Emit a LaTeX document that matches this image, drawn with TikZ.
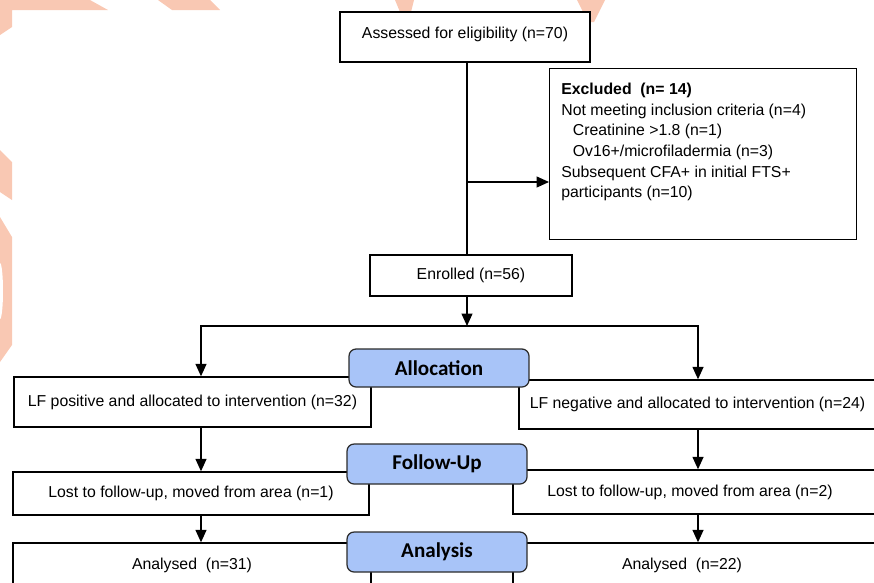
\documentclass[tikz,border=0pt]{standalone}
\usepackage{fontspec}
\setmainfont{Liberation Sans}
\newfontfamily\stagefont{Carlito}
\usetikzlibrary{arrows.meta,positioning,calc}
\definecolor{stageblue}{HTML}{A8C4F8}
\definecolor{stageedge}{HTML}{2B2B2B}
\definecolor{markorange}{HTML}{F9C8B3}

\begin{document}
\begin{tikzpicture}[
    x=0.02cm, y=-0.02cm,
    >={Triangle[length=2.5mm,width=2.2mm]},
    box/.style={draw=black,line width=0.8pt,fill=white,inner sep=0pt,
                font=\fontsize{9}{11.7}\selectfont},
    stage/.style={draw=stageedge,fill=stageblue,rounded corners=4pt,line width=0.7pt,
                  minimum width=3.6cm,minimum height=0.76cm,
                  font=\stagefont\fontsize{12}{14}\selectfont\bfseries},
    flow/.style={->,line width=0.8pt}
  ]
  \useasboundingbox (0,0) rectangle (874,582);
  \clip (0,0) rectangle (874,582);

  % faint logo behind the chart
  \fill[markorange] (0,0) -- (90,0) -- (108,10) -- (12,10) -- (12,27) -- (0,35) -- cycle;
  \fill[markorange] (158,0) -- (210,0) -- (220,10) -- (172,10) -- cycle;
  \fill[markorange] (395,0) -- (414,0) -- (411,12) -- (400,12) -- cycle;
  \fill[markorange] (577,0) -- (605,0) -- (594,22) -- (588,22) -- cycle;
  \fill[markorange] (0,150) -- (12,162) -- (12,200) -- (0,192) -- cycle;
  \fill[markorange] (0,217) -- (12,237) -- (12,345) -- (0,362) -- cycle;
  \fill[white] (0,291) ellipse [x radius=0.06cm, y radius=0.56cm];

  % enrolment
  \node[box,minimum width=5cm,minimum height=1cm] (assess) at (465,37) {Assessed for eligibility (n=70)\rule[-0.5em]{0pt}{0pt}};
  \coordinate (split) at (467,182);
  \node[box,anchor=north west,minimum width=6.14cm,minimum height=3.42cm] (excl) at (549,68) {};
  \node[anchor=north west,align=left,inner sep=0pt,font=\fontsize{9}{11.7}\selectfont] (excltext) at (561,83)
    {\textbf{Excluded\ \ (n= 14)}\\
     Not meeting inclusion criteria (n=4)\\
     \hspace*{0.23cm}Creatinine >1.8 (n=1)\\
     \hspace*{0.23cm}Ov16+/microfiladermia (n=3)\\
     Subsequent CFA+ in initial FTS+\\
     participants (n=10)};
  \node[box,minimum width=4.04cm,minimum height=0.82cm] (enrol) at (471,275.5) {Enrolled (n=56)};
  \coordinate (fork) at (467,326);
  \coordinate (lcol) at (201,0);
  \coordinate (rcol) at (698,0);

  % the two arms
  \node[box,minimum width=7.14cm,minimum height=1cm] (pos) at (192.5,402) {LF positive and allocated to intervention (n=32)};
  \node[box,minimum width=7.14cm,minimum height=0.98cm] (neg) at (697.5,404.5) {LF negative and allocated to intervention (n=24)};
  \node[box,minimum width=7.12cm,minimum height=0.86cm] (lost1) at (191,493.5) {Lost to follow-up, moved from area (n=1)};
  \node[box,minimum width=7.26cm,minimum height=0.88cm] (lost2) at (694.5,492) {Lost to follow-up, moved from area (n=2)\hspace*{0.18cm}};
  \node[box,minimum width=7.16cm,minimum height=0.88cm] (ana1) at (192,565) {Analysed\ \ (n=31)};
  \node[box,minimum width=7.26cm,minimum height=0.88cm] (ana2) at (694.5,565) {Analysed\ \ (n=22)\hspace*{0.5cm}};

  % connectors
  \draw[line width=0.8pt] (assess.south -| split) -- (enrol.north -| split);
  \draw[flow] (split) -- (split -| excl.west);
  \draw[flow] (enrol.south -| fork) -- (fork);
  \draw[flow] (fork) -| (lcol |- pos.north);
  \draw[flow] (fork) -| (rcol |- neg.north);
  \draw[flow] (lcol |- pos.south) -- (lcol |- lost1.north);
  \draw[flow] (lcol |- lost1.south) -- (lcol |- ana1.north);
  \draw[flow] (rcol |- neg.south) -- (rcol |- lost2.north);
  \draw[flow] (rcol |- lost2.south) -- (rcol |- ana2.north);

  % stage labels
  \node[stage] (alloc) at (439,368) {Allocation};
  \node[stage,minimum height=0.8cm] (follow) at (437,464) {Follow-Up};
  \node[stage,minimum height=0.8cm] (analysis) at (437,552) {Analysis};
\end{tikzpicture}
\end{document}
